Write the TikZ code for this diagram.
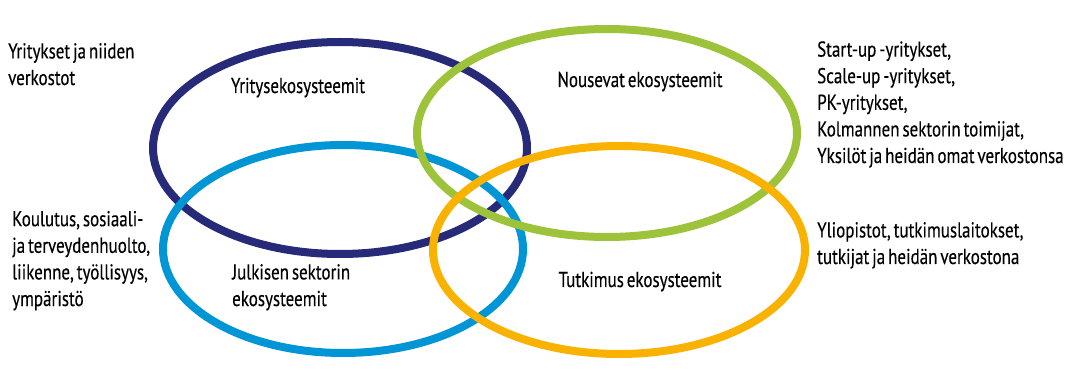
\documentclass[tikz,border=0pt]{standalone}
\usepackage{fontspec}
\setmainfont[FakeStretch=0.79,WordSpace=0.65,FakeBold=0.3]{PT Sans}
\definecolor{navy}{HTML}{262A78}
\definecolor{leaf}{HTML}{9DC33B}
\definecolor{sky}{HTML}{0096D6}
\definecolor{amber}{HTML}{F9B200}
\begin{document}
\begin{tikzpicture}[x=1pt,y=-1pt,
  ring/.style={line width=8pt},
  txt/.style={inner sep=0pt,anchor=base west,font=\fontsize{21.5}{26.6}\selectfont,align=left},
  lbl/.style={inner sep=0pt,anchor=base,font=\fontsize{21.5}{26.6}\selectfont,align=left}]
\useasboundingbox (0,0) rectangle (1069,374);
% the four overlapping circles
\draw[ring,navy]  (340,148) ellipse [x radius=187, y radius=106];
\draw[ring,sky]   (343,249) ellipse [x radius=180, y radius=104];
\draw[ring,leaf]  (607,133) ellipse [x radius=190, y radius=104];
\draw[ring,amber] (619,250) ellipse [x radius=186, y radius=104];
% labels inside the circles (base = baseline of the last line)
\node[lbl] (yr) at (298,93) {Yritysekosysteemit};
\node[lbl] (no) at (640,87) {Nousevat ekosysteemit};
\node[txt] (ju) at (232,306) {Julkisen sektorin\\ekosysteemit};
\node[lbl] (tu) at (640,287) {Tutkimus ekosysteemit};
% side descriptions
\node[txt] (d1) at (8,85) {Yritykset ja niiden\\verkostot};
\node[txt] (d2) at (817,163) {Start-up -yritykset,\\Scale-up -yritykset,\\PK-yritykset,\\Kolmannen sektorin toimijat,\\Yksilöt ja heidän omat verkostonsa};
\node[txt] (d3) at (12,306) {Koulutus, sosiaali-\\ja terveydenhuolto,\\liikenne, työllisyys,\\ympäristö};
\node[txt] (d4) at (817,264) {Yliopistot, tutkimuslaitokset,\\tutkijat ja heidän verkostona};
\end{tikzpicture}
\end{document}
